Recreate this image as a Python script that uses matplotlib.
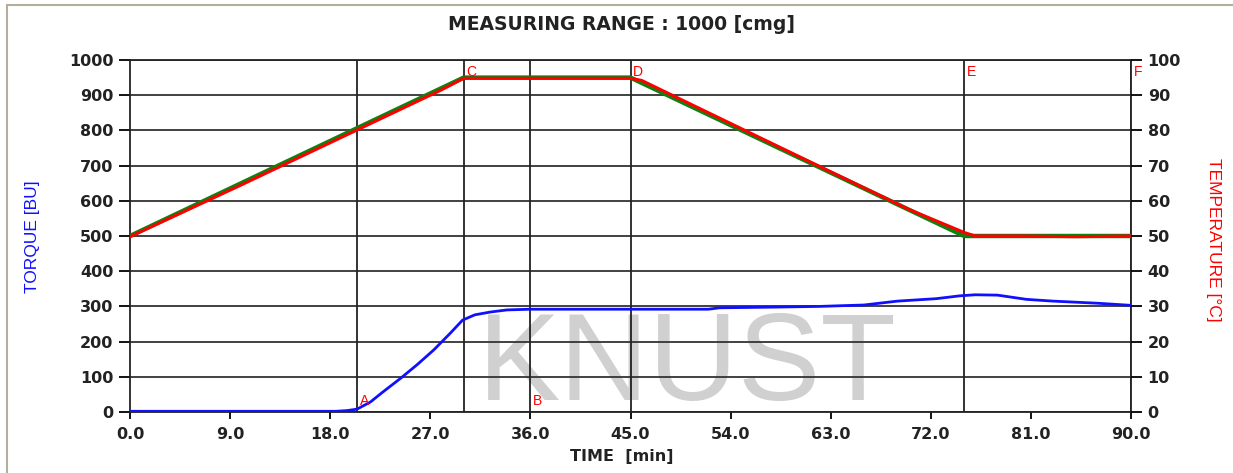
import numpy as np
from matplotlib import pyplot as plt
from matplotlib.patches import Rectangle

plt.rcParams['font.family'] = ['DejaVu Sans']

# torque curve (BU)
time_torque = [0, 18.5, 19.5, 20.4, 21.6, 22.7, 24.3, 25.8, 27.3, 28.8, 29.9, 31.0,
               32.4, 33.9, 36.0, 45.0, 52.0, 53.0, 58.0, 62.0, 66.0, 69.0, 72.5,
               74.6, 76.0, 78.0, 80.6, 83.0, 87.0, 90.0]
torque = [2, 2, 4, 8, 28, 56, 95, 134, 176, 224, 261, 276,
          284, 290, 292, 292, 292, 296, 298, 300, 304, 315, 322,
          330, 333, 332, 320, 315, 309, 303]

# temperature profile: set point (green) and measured (red), in deg C
time_set = [0, 30, 45, 75, 90]
temp_set = [50, 95, 95, 50, 50]
time_meas = [0, 10, 20, 28, 30, 31, 45, 46, 60, 70, 75, 76, 80, 85, 90]
temp_meas = [49.8, 64.5, 79.5, 91.5, 94.8, 94.8, 94.8, 94.2, 72.8, 57.6, 51.0, 50.0, 50.0, 49.8, 50.0]

# phase markers
marker_time = [20.4, 36.0, 30.0, 45.0, 75.0, 90.0]
marker_name = ['A', 'B', 'C', 'D', 'E', 'F']

xticks = np.arange(0, 91, 9)

fig = plt.figure(figsize=(12.33, 4.73), dpi=100)
fig.patches.append(Rectangle((7/1233, -0.01), 1.0, 1 - 5/473 + 0.01, transform=fig.transFigure,
                             fill=False, edgecolor='#b5ae9f', lw=1.5))
ax = fig.add_axes([130/1233, 1 - 412/473, 1001/1233, 352/473])
ax2 = ax.twinx()

ax.set_xlim(0, 90)
ax.set_ylim(0, 1000)
ax2.set_ylim(0, 100)

# watermark behind everything
ax.text(0.557, 0.034, 'KNUST', transform=ax.transAxes, fontsize=89, color='#d0d0d0',
        ha='center', va='baseline', zorder=0, family='Liberation Sans')

ax.yaxis.grid(True, color='#333333', lw=1.3)
ax.set_axisbelow(True)
for t in marker_time:
    ax.axvline(t, color='#222222', lw=1.3, zorder=1)

ax.plot(time_torque, torque, color='#1010ff', lw=2, zorder=4)
ax2.plot(time_set, temp_set, color='#108010', lw=3.2, zorder=3)
ax2.plot(time_meas, temp_meas, color='#ff0000', lw=2.2, zorder=4)

for t, name in zip(marker_time, marker_name):
    if name in ('A', 'B'):
        ax.text(t + 0.25, 0.012, name, transform=ax.get_xaxis_transform(), color='red',
                fontsize=10, ha='left', va='bottom', zorder=5, family='Liberation Sans')
    else:
        ax.text(t + 0.25, 0.985, name, transform=ax.get_xaxis_transform(), color='red',
                fontsize=10, ha='left', va='top', zorder=5, family='Liberation Sans')

ax.set_xticks(xticks)
ax.set_xticklabels([f'{v:.1f}' for v in xticks], fontsize=11.5, fontweight='bold', color='#222222')
ax.set_yticks(np.arange(0, 1001, 100))
ax.set_yticklabels([str(v) for v in range(0, 1001, 100)], fontsize=11.5, fontweight='bold', color='#222222')
ax2.set_yticks(np.arange(0, 101, 10))
ax2.set_yticklabels([str(v) for v in range(0, 101, 10)], fontsize=11.5, fontweight='bold', color='#222222')
ax.tick_params(axis='x', length=5, width=1.3, pad=6)
ax.tick_params(axis='y', length=8, width=1.3, pad=4)
ax2.tick_params(axis='y', length=8, width=1.3, pad=4)
for sp in ax.spines.values():
    sp.set_linewidth(1.3)
    sp.set_color('#222222')
for sp in ax2.spines.values():
    sp.set_visible(False)

fig.text(621/1233, 1 - 25/473, 'MEASURING RANGE : 1000 [cmg]', ha='center', va='center',
         fontsize=13.5, fontweight='bold', color='#222222')
fig.text(622/1233, 1 - 456/473, 'TIME  [min]', ha='center', va='center',
         fontsize=11.5, fontweight='bold', color='#222222')
fig.text(33/1233, 1 - 237/473, 'TORQUE [BU]', rotation=90, ha='center', va='center',
         fontsize=12.5, color='#1010ff', family='Liberation Sans')
fig.text(1213/1233, 1 - 240/473, 'TEMPERATURE [°C]', rotation=-90, ha='center', va='center',
         fontsize=12.5, color='red', family='Liberation Sans')

fig.savefig('out.png', dpi=100)
